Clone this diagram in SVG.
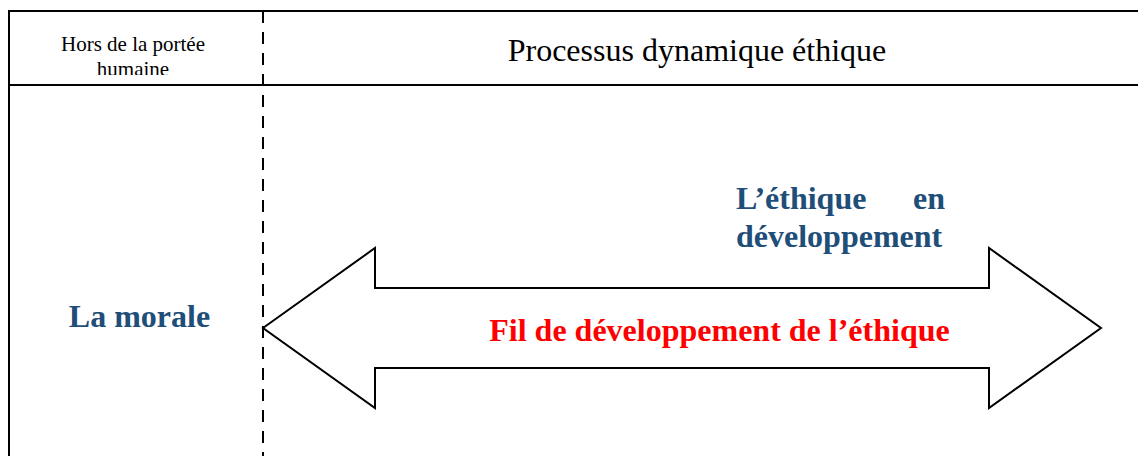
<svg xmlns="http://www.w3.org/2000/svg" width="1138" height="456" viewBox="0 0 1138 456">
  <style>
    .rule { stroke: #000; stroke-width: 2; fill: none; }
    .divider { stroke: #000; stroke-width: 2; stroke-dasharray: 12 9; fill: none; }
    .serif { font-family: "Liberation Serif", "Times New Roman", serif; }
    .head-small { font-size: 21px; fill: #000; }
    .head-large { font-size: 32px; fill: #000; }
    .blue { font-size: 32px; font-weight: bold; fill: #1F4E79; }
    .red { font-size: 32px; font-weight: bold; fill: #FF0000; }
    .arrow { fill: #fff; stroke: #000; stroke-width: 2; stroke-linejoin: miter; }
  </style>
  <defs>
    <!-- header cell text is cut at the cell's inner bottom -->
    <clipPath id="headCell">
      <rect x="10" y="12" width="252" height="63"/>
    </clipPath>
  </defs>
  <rect width="1138" height="456" fill="#fff"/>

  <!-- table frame -->
  <g id="table">
    <line class="rule" x1="8" y1="11" x2="1138" y2="11"/>
    <line class="rule" x1="8" y1="85" x2="1138" y2="85"/>
    <line class="rule" x1="9" y1="10" x2="9" y2="456"/>
    <line class="divider" x1="263" y1="11" x2="263" y2="456"/>
  </g>

  <!-- header cells -->
  <g id="header-left" clip-path="url(#headCell)">
    <text class="serif head-small" x="133" y="51" text-anchor="middle">Hors de la portée</text>
    <text class="serif head-small" x="133" y="76" text-anchor="middle">humaine</text>
  </g>
  <g id="header-right">
    <text class="serif head-large" x="697" y="61" text-anchor="middle">Processus dynamique éthique</text>
  </g>

  <!-- left column label -->
  <g id="morale">
    <text class="serif blue" x="139.5" y="327" text-anchor="middle">La morale</text>
  </g>

  <!-- double-headed arrow -->
  <g id="arrow">
    <polygon class="arrow" points="263,328 375,248 375,288 989,288 989,248 1101,328 989,408 989,368 375,368 375,408"/>
    <text class="serif red" x="719.5" y="341" text-anchor="middle">Fil de développement de l’éthique</text>
  </g>

  <g id="ethique">
    <text class="serif blue" x="736" y="209">L’éthique</text>
    <text class="serif blue" x="945" y="209" text-anchor="end">en</text>
    <text class="serif blue" x="736" y="247">développement</text>
  </g>
</svg>
